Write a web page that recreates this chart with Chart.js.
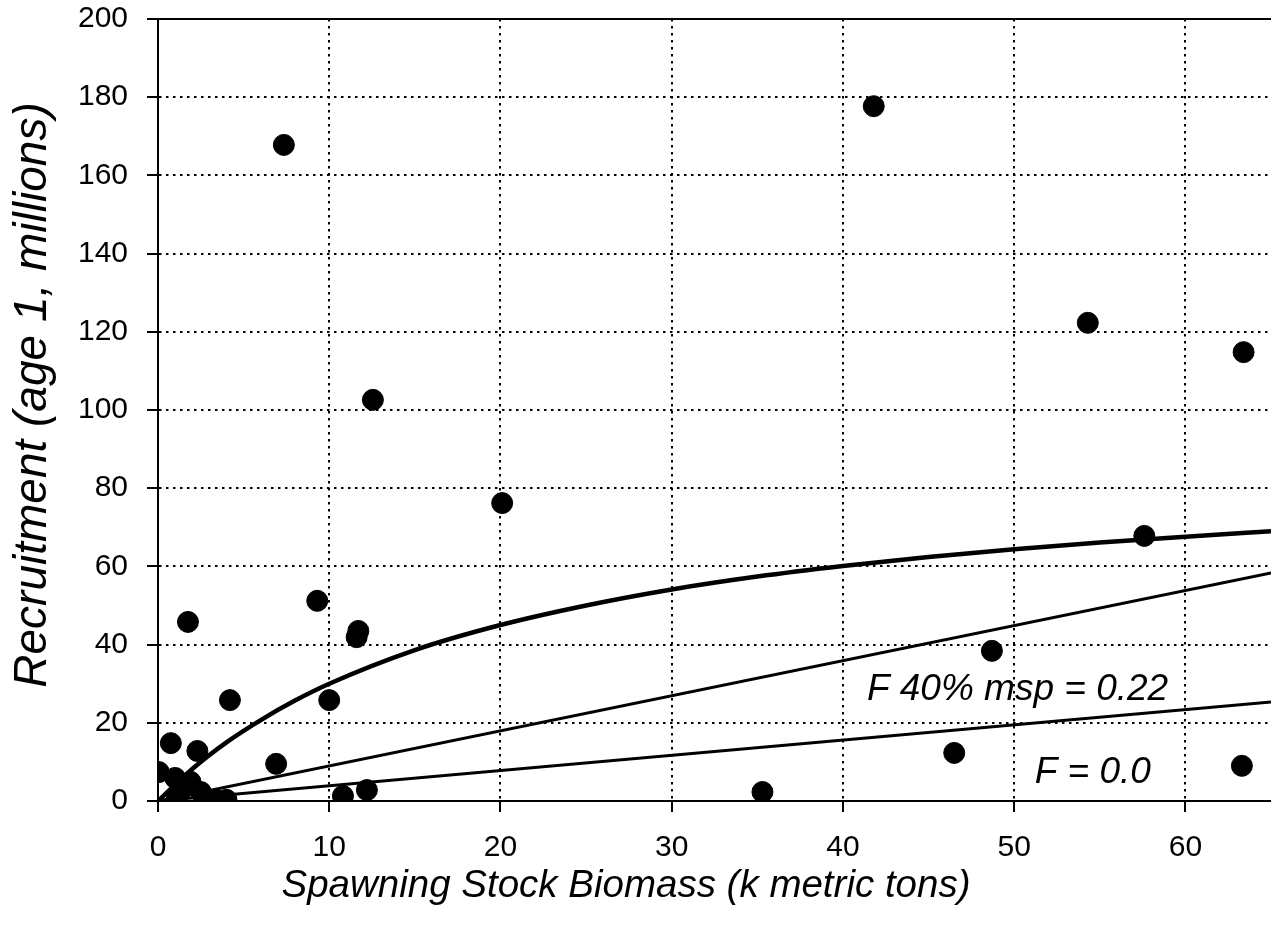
<!DOCTYPE html>
<html>
<head>
<meta charset="utf-8">
<script src="https://cdn.jsdelivr.net/npm/chart.js@4.4.1/dist/chart.umd.min.js"></script>
<style>
  html, body { margin: 0; padding: 0; background: #fff; }
  #wrap { width: 1271px; height: 939px; position: relative; }
</style>
</head>
<body>
<div id="wrap"><canvas id="chart"></canvas></div>
<script>
// observed stock / recruit pairs
const ssb = [7.35, 41.8, 54.3, 63.4, 12.55, 20.1, 57.6, 9.3, 11.7, 11.6, 1.75, 4.2, 10.0, 48.7, 0.75,
             2.3, 6.9, 0.05, 10.8, 12.2, 35.3, 46.5, 63.3, 1.0, 1.9, 1.1, 2.5, 3.4, 4.0, 1.4];
const recruits = [167.8, 177.7, 122.3, 114.8, 102.6, 76.2, 67.8, 51.2, 43.5, 41.9, 45.8, 25.8, 25.8, 38.4, 14.8,
                  12.8, 9.5, 7.4, 1.3, 2.8, 2.3, 12.3, 9.0, 5.9, 4.9, 1.0, 2.3, 0.3, 0.3, 3.0];

// fitted stock-recruit curve
const curveX = [0, 2, 4, 6, 8, 10, 15, 20, 25, 30, 35, 40, 45, 50, 55, 60, 65];
const curveY = [0, 8.2, 15.0, 20.7, 25.7, 30.0, 38.6, 45.0, 50.0, 54.1, 57.4, 60.1, 62.4, 64.4, 66.1, 67.6, 69.0];

// replacement lines
const f40X = [0, 65];
const f40Y = [0, 58.3];
const f0X = [0, 65];
const f0Y = [0, 25.3];

const xTicks = [0, 10, 20, 30, 40, 50, 60];
const yTicks = [0, 20, 40, 60, 80, 100, 120, 140, 160, 180, 200];

const notes = [
    { text: 'F 40% msp = 0.22', x: 41.4, y: 25.8 },
    { text: 'F = 0.0', x: 51.2, y: 4.6 }
];

const FONT = '"Liberation Sans", Arial, sans-serif';
const pairs = (xs, ys) => xs.map((x, i) => ({ x: x, y: ys[i] }));

const labelPlugin = {
    id: 'labels',
    afterDatasetsDraw(chart) {
        const { ctx, scales: { x, y } } = chart;
        ctx.save();
        ctx.fillStyle = '#000';
        ctx.font = 'italic 37px ' + FONT;
        ctx.textBaseline = 'alphabetic';
        ctx.textAlign = 'left';
        notes.forEach(n => {
            ctx.fillText(n.text, x.getPixelForValue(n.x), y.getPixelForValue(n.y));
        });
        ctx.restore();
    },
    afterDraw(chart) {
        const ctx = chart.ctx;
        ctx.save();
        ctx.fillStyle = '#000';
        ctx.textAlign = 'center';
        ctx.textBaseline = 'alphabetic';
        ctx.font = 'italic 38.5px ' + FONT;
        ctx.fillText('Spawning Stock Biomass (k metric tons)', 626, 897);
        ctx.font = 'italic 46px ' + FONT;
        ctx.translate(46, 395);
        ctx.rotate(-Math.PI / 2);
        ctx.fillText('Recruitment (age 1, millions)', 0, 0);
        ctx.restore();
    }
};

const axisGrid = {
    color: '#000',
    lineWidth: 2,
    tickColor: '#000',
    tickWidth: 2,
    tickLength: 11,
    tickBorderDash: []
};

new Chart(document.getElementById('chart'), {
    type: 'scatter',
    data: {
        datasets: [
            {
                label: 'Observed',
                data: pairs(ssb, recruits),
                backgroundColor: '#000',
                borderColor: '#000',
                pointRadius: 10.5,
                pointHoverRadius: 10.5,
                showLine: false
            },
            {
                label: 'Stock-recruit',
                data: pairs(curveX, curveY),
                borderColor: '#000',
                borderWidth: 4.5,
                pointRadius: 0,
                showLine: true,
                cubicInterpolationMode: 'monotone'
            },
            {
                label: 'F40',
                data: pairs(f40X, f40Y),
                borderColor: '#000',
                borderWidth: 3,
                pointRadius: 0,
                showLine: true
            },
            {
                label: 'F0',
                data: pairs(f0X, f0Y),
                borderColor: '#000',
                borderWidth: 3,
                pointRadius: 0,
                showLine: true
            }
        ]
    },
    options: {
        responsive: true,
        maintainAspectRatio: false,
        animation: false,
        layout: { autoPadding: false, padding: { top: 19, right: 0, left: 0, bottom: 0 } },
        plugins: {
            legend: { display: false },
            tooltip: { enabled: false }
        },
        scales: {
            x: {
                type: 'linear',
                position: 'bottom',
                min: 0,
                max: 65,
                afterBuildTicks: s => { s.ticks = xTicks.map(v => ({ value: v })); },
                afterFit: s => { s.height = 138; s.paddingLeft = 0; s.paddingRight = 0; },
                grid: axisGrid,
                border: { display: true, color: '#000', width: 2, dash: [2.5, 4.5] },
                ticks: {
                    color: '#000',
                    font: { family: FONT, size: 30 },
                    padding: 18,
                    maxRotation: 0
                }
            },
            x2: {
                type: 'linear',
                position: 'top',
                min: 0,
                max: 65,
                afterFit: s => { s.height = 0; s.paddingLeft = 0; s.paddingRight = 0; },
                grid: { drawOnChartArea: false, drawTicks: false },
                border: { display: true, color: '#000', width: 2 },
                ticks: { display: false }
            },
            y: {
                type: 'linear',
                min: 0,
                max: 200,
                afterBuildTicks: s => { s.ticks = yTicks.map(v => ({ value: v })); },
                afterFit: s => { s.width = 158; s.paddingTop = 0; s.paddingBottom = 0; },
                grid: axisGrid,
                border: { display: true, color: '#000', width: 2, dash: [2.5, 4.5] },
                ticks: {
                    color: '#000',
                    font: { family: FONT, size: 30 },
                    padding: 19
                }
            }
        }
    },
    plugins: [labelPlugin]
});
</script>
</body>
</html>
